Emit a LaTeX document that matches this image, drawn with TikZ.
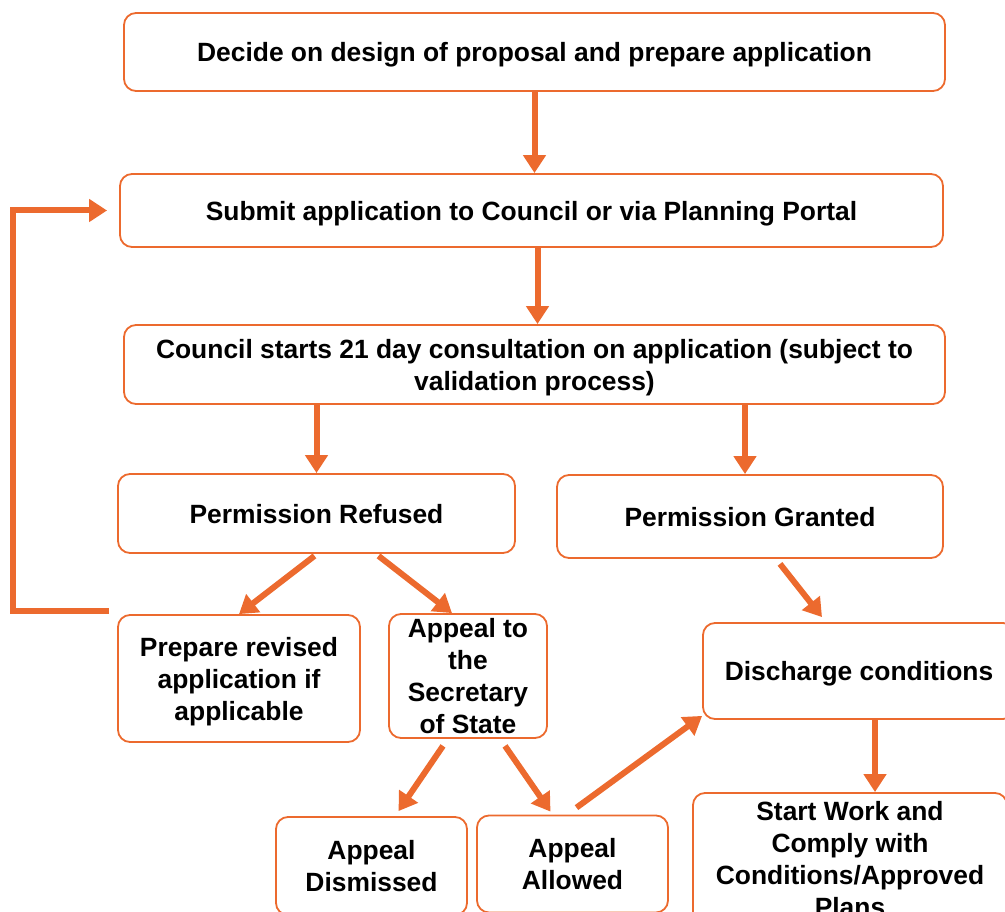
\documentclass[tikz,border=0pt]{standalone}
\usepackage{fontspec}
\setmainfont{Liberation Sans}
\usepackage{tikz}
\usetikzlibrary{arrows.meta}

\definecolor{flow}{RGB}{236,106,46}

\begin{document}
\begin{tikzpicture}[
            x=1pt, y=-1pt,
            box/.style={draw=flow, line width=1.8pt, rectangle, rounded corners=12pt, inner sep=0pt, text depth=0pt, align=center, font=\fontsize{26.4pt}{32pt}\selectfont\bfseries},
            arrow/.style={-{Triangle[length=18pt, width=22pt]}, draw=flow, line width=6pt}
        ]
        \useasboundingbox (0,0) rectangle (1005,912);

        % Nodes
        \node[box, minimum width=821pt, minimum height=78pt] (decide) at (534.5,52) {Decide on design of proposal and prepare application};
        \node[box, minimum width=823pt, minimum height=73pt] (submit) at (531.5,210.5) {Submit application to Council or via Planning Portal};
        \node[box, minimum width=821pt, minimum height=79pt] (consult) at (534.5,364.5) {Council starts 21 day consultation on application (subject to\\validation process)};
        \node[box, minimum width=397pt, minimum height=79pt] (refused) at (316.5,513.5) {Permission Refused};
        \node[box, minimum width=386pt, minimum height=83pt] (granted) at (750,516.5) {Permission Granted};
        \node[box, minimum width=242pt, minimum height=127pt] (revise) at (239,678.5) {Prepare revised\\application if\\applicable};
        \node[box, minimum width=158pt, minimum height=124pt] (appeal-sos) at (468,676) {Appeal to\\the\\Secretary\\of State};
        \node[box, minimum width=191pt, minimum height=98pt] (dismissed) at (371.5,866) {Appeal\\Dismissed};
        \node[box, minimum width=191pt, minimum height=97pt] (allowed) at (572.5,864) {Appeal\\Allowed};
        \node[box, minimum width=312pt, minimum height=96pt] (discharge) at (859,671) {Discharge conditions};
        \node[box, minimum width=314pt, minimum height=132pt] (start-work) at (850,859) {Start Work and\\Comply with\\Conditions/Approved\\Plans};

        % Arrows
        \draw[arrow] (decide.south) -- (decide.south |- submit.north);
        \draw[arrow] ([xshift=6pt]submit.south) -- ([xshift=6pt]submit.south |- consult.north);
        \draw[arrow] (refused.north |- consult.south) -- (refused.north);
        \draw[arrow] ([xshift=-5pt]granted.north |- consult.south) -- ([xshift=-5pt]granted.north);
        \draw[arrow] ([xshift=-2pt,yshift=-2pt]refused.south) -- (revise.north);
        \draw[arrow] ([xshift=62pt,yshift=-2pt]refused.south) -- ([xshift=-16pt]appeal-sos.north);
        \draw[arrow] ([xshift=-25pt,yshift=-7pt]appeal-sos.south) -- ([xshift=27pt,yshift=5pt]dismissed.north);
        \draw[arrow] ([xshift=37pt,yshift=-7pt]appeal-sos.south) -- ([xshift=-22pt,yshift=3pt]allowed.north);
        \draw[arrow] ([xshift=4pt,yshift=7pt]allowed.north) -- ([yshift=4pt]discharge.south west);
        \draw[arrow] ([xshift=30pt,yshift=-5pt]granted.south) -- ([xshift=-37pt,yshift=5pt]discharge.north);
        \draw[arrow] ([xshift=16pt]discharge.south) -- ([xshift=16pt]discharge.south |- start-work.north);
        \draw[arrow] ([xshift=-8pt,yshift=3pt]revise.north west) -- ++(-96,0) |- ([xshift=-12pt]submit.west);

    \end{tikzpicture}
\end{document}
